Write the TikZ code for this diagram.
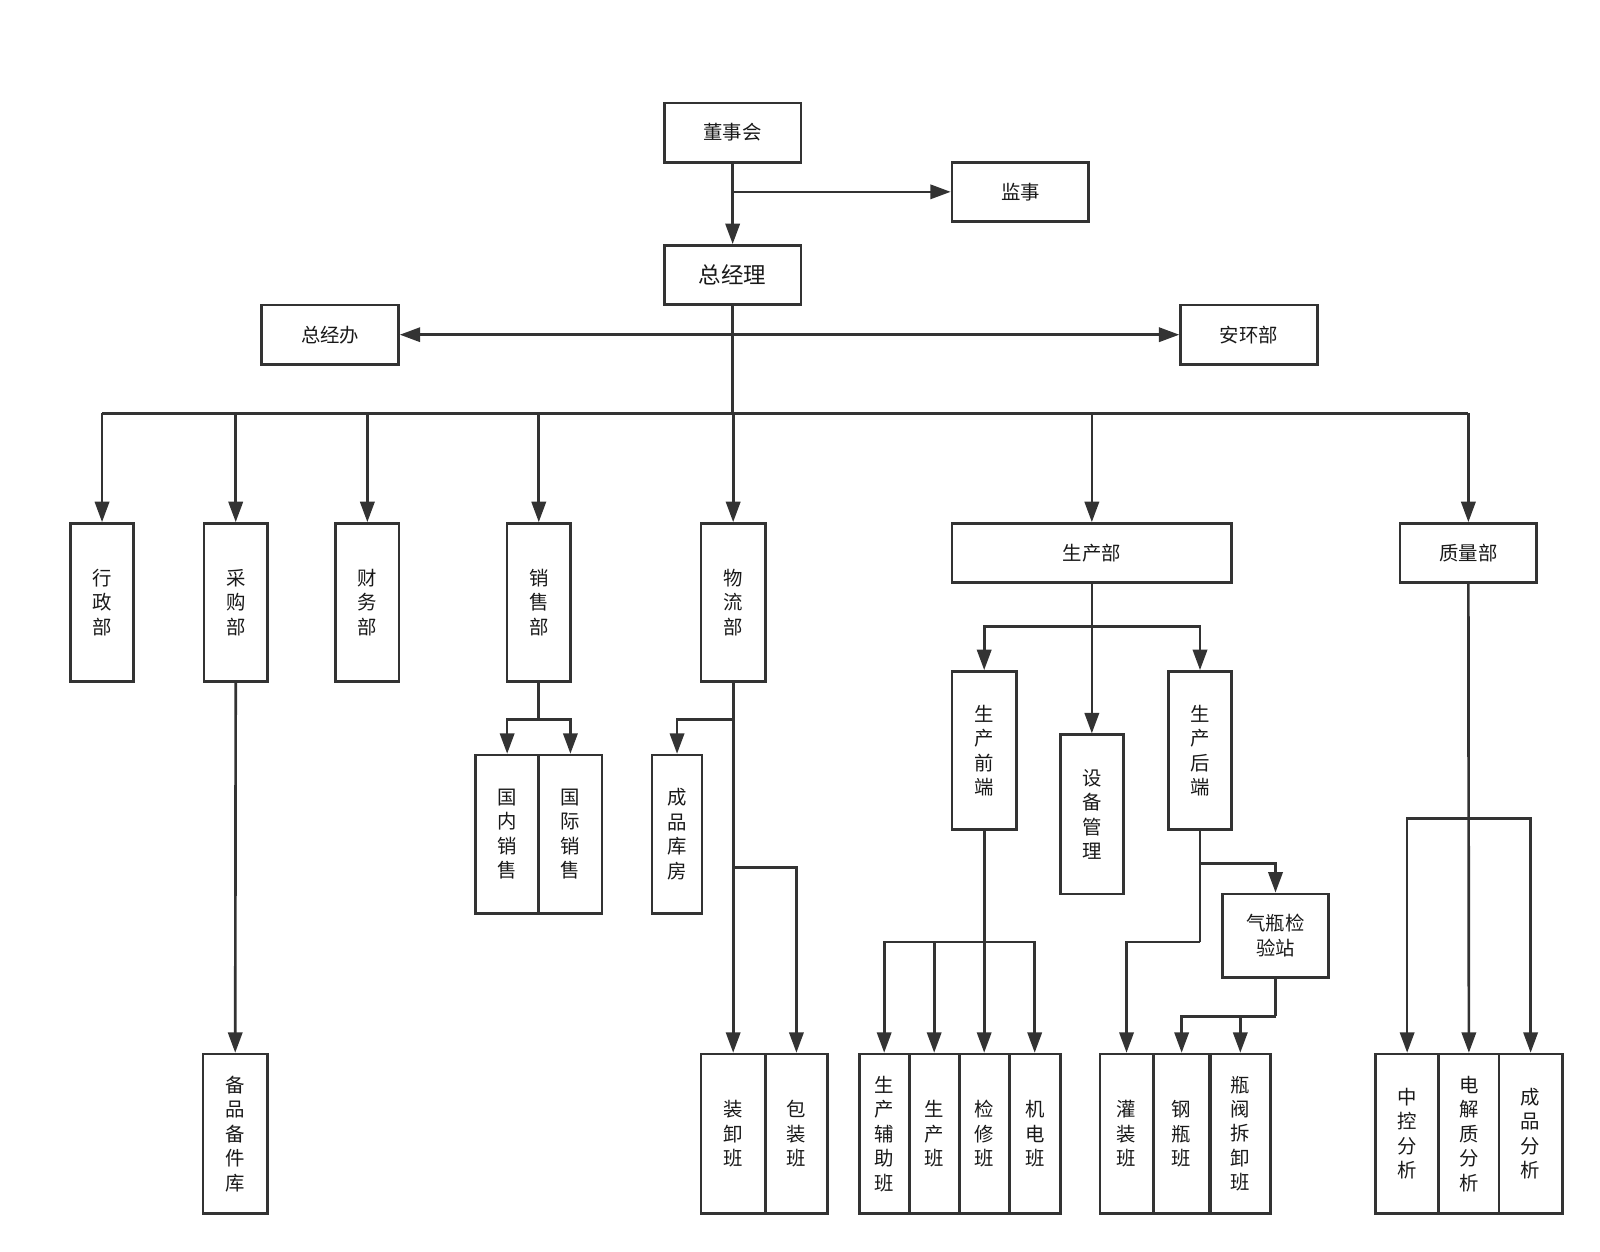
\documentclass[tikz,border=0pt]{standalone}
\usepackage{fontspec}
\setmainfont{Noto Sans CJK SC}
\usetikzlibrary{arrows.meta}
\definecolor{ln}{HTML}{333333}
\tikzset{
  box/.style={draw=ln, line width=2.6pt, inner sep=0pt, align=center, text=black!90,
              font=\fontsize{19}{24}\selectfont},
  tall/.style={box, minimum width=62pt, minimum height=155pt},
  wide/.style={box, minimum width=134pt, minimum height=58pt},
  conn/.style={draw=ln, line width=2.6pt},
  arr/.style={conn, -{Triangle[length=20pt,width=14pt]}},
  arrb/.style={conn, {Triangle[length=20pt,width=14pt]}-{Triangle[length=20pt,width=14pt]}},
}
\begin{document}
\begin{tikzpicture}[x=1pt,y=-1pt]
\useasboundingbox (0,0) rectangle (1568,1226);
% top level
\node[wide] (dsh) at (718,130) {董事会};
\node[wide] (js)  at (1000,188) {监事};
\node[wide, font=\fontsize{22}{26}\selectfont] (zjl) at (718,269.5) {总经理};
\node[wide] (zjb) at (323.5,328) {总经办};
\node[wide] (ahb) at (1224,328) {安环部};
% departments
\node[tall] (xz)  at (100,590.5) {行\\政\\部};
\node[tall] (cg)  at (231,590.5) {采\\购\\部};
\node[tall] (cw)  at (360,590.5) {财\\务\\部};
\node[tall] (xs)  at (528,590.5) {销\\售\\部};
\node[tall, minimum width=63pt] (wl)  at (718.5,590.5) {物\\流\\部};
\node[box, minimum width=274pt, minimum height=58pt] (sc) at (1070,542) {生产部};
\node[wide] (zl)  at (1439,542) {质量部};
% sales
\node[tall] (gn) at (497,817.5) {国\\内\\销\\售};
\node[tall] (gj) at (559,817.5) {国\\际\\销\\售};
% logistics
\node[tall, minimum width=49pt] (cp) at (663.5,817.5) {成\\品\\库\\房};
\node[tall, minimum width=63pt, minimum height=156pt] (zx) at (718.5,1111) {装\\卸\\班};
\node[tall, minimum width=61pt, minimum height=156pt] (bz) at (780.5,1111) {包\\装\\班};
% purchasing
\node[tall, minimum width=63pt, minimum height=156pt] (bp) at (230.5,1111) {备\\品\\备\\件\\库};
% production
\node[tall, minimum width=63pt] (qd) at (964.5,735.5) {生\\产\\前\\端};
\node[tall] (hd) at (1176,735.5) {生\\产\\后\\端};
\node[tall, minimum height=156pt] (sb) at (1070,798) {设\\备\\管\\理};
\node[box, minimum width=104pt, minimum height=82pt] (qp) at (1250,917) {气瓶检\\验站};
\node[tall, minimum width=49pt, minimum height=156pt] (fz) at (866.5,1111) {生\\产\\辅\\助\\班};
\node[tall, minimum width=49pt, minimum height=156pt] (scb) at (915.5,1111) {生\\产\\班};
\node[tall, minimum width=49pt, minimum height=156pt] (jx) at (964.5,1111) {检\\修\\班};
\node[tall, minimum width=50pt, minimum height=156pt] (jd) at (1014,1111) {机\\电\\班};
\node[tall, minimum width=52pt, minimum height=156pt] (gz) at (1104,1111) {灌\\装\\班};
\node[tall, minimum width=54pt, minimum height=156pt] (gp) at (1158,1111) {钢\\瓶\\班};
\node[tall, minimum width=59pt, minimum height=156pt] (pf) at (1215.5,1111) {瓶\\阀\\拆\\卸\\班};
% quality
\node[tall, minimum height=156pt] (zk) at (1379,1111) {中\\控\\分\\析};
\node[tall, minimum width=59pt, minimum height=156pt] (dj) at (1439.5,1111) {电\\解\\质\\分\\析};
\node[tall, minimum height=156pt] (cf) at (1500,1111) {成\\品\\分\\析};

% connectors: top
\draw[arr] (dsh.south) -- (zjl.north);
\draw[arr] (dsh.south |- js.west) -- (js.west);
\draw[arrb] (zjb.east) -- (ahb.west);
\coordinate (bus) at (718,405);
\draw[conn] (zjl.south) -- (bus);
\draw[conn] (xz.north |- bus) -- (zl.north |- bus);
\foreach \n in {xz,cg,cw,xs,wl,sc,zl} \draw[arr] (\n.north |- bus) -- (\n.north);
% purchasing
\draw[arr] (cg.south) -- (bp.north);
% sales
\coordinate (s1) at (528,705);
\draw[conn] (xs.south) -- (s1);
\draw[arr] (s1) -| (gn.north);
\draw[arr] (s1) -| (gj.north);
% logistics
\draw[arr] (wl.south) -- (zx.north);
\coordinate (w1) at (718.5,705);
\coordinate (w2) at (718.5,850);
\draw[arr] (w1) -| (cp.north);
\draw[arr] (w2) -| (bz.north);
% production
\coordinate (p1) at (1070,614);
\draw[arr] (sc.south) -- (sb.north);
\draw[arr] (p1) -| (qd.north);
\draw[arr] (p1) -| (hd.north);
\coordinate (f1) at (964.5,923);
\draw[arr] (qd.south) -- (jx.north);
\draw[arr] (f1) -| (fz.north);
\draw[arr] (f1) -| (scb.north);
\draw[arr] (f1) -| (jd.north);
\coordinate (h1) at (1176,846);
\coordinate (h2) at (1176,923);
\draw[conn] (hd.south) -- (h2);
\draw[arr] (h2) -| (gz.north);
\draw[arr] (h1) -| (qp.north);
\coordinate (q1) at (1250,996);
\draw[conn] (qp.south) -- (q1);
\draw[arr] (q1) -| (gp.north);
\draw[arr] (q1 -| pf.north) -- (pf.north);
% quality
\coordinate (z1) at (1439.5,802);
\draw[arr] (zl.south) -- (dj.north);
\draw[arr] (z1) -| (zk.north);
\draw[arr] (z1) -| (cf.north);
\end{tikzpicture}
\end{document}
